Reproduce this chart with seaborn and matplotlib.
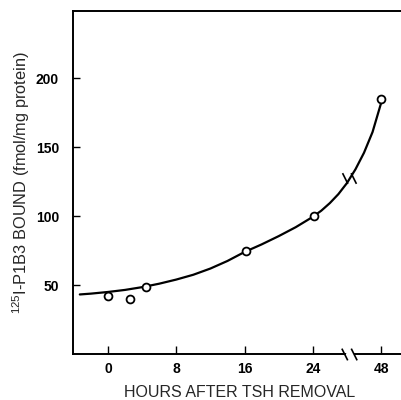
import matplotlib
matplotlib.use("Agg")
import matplotlib.pyplot as plt
import matplotlib.transforms as mtransforms
from matplotlib.path import Path
import pandas as pd
import seaborn as sns

# measured points (48 h sits at plotting position 32 behind the axis break)
hours = [0, 2.6, 4.4, 16.2, 24.1, 48]
bound = [42, 40, 48.8, 75, 100, 185]

# hand-drawn curve
curve_hours = [-3.3, -2, 0, 2, 4, 6, 8, 10, 12, 14, 16, 18, 20, 22, 24,
               25, 26, 27, 28, 29, 30, 31, 32]
curve_bound = [43.2, 43.8, 45, 46.5, 48.5, 51, 54, 57.5, 62, 67.5, 74, 79.5,
               85.5, 92, 99.5, 104, 109.5, 116, 124, 134, 146, 161, 182]

x_ticks = [0, 8, 16, 24, 32]
x_tick_labels = ["0", "8", "16", "24", "48"]
y_ticks = [50, 100, 150, 200]
BREAK_POS = 28.3


def to_pos(h):
    # hours past the break are drawn at 32
    return 32 if h >= 48 else h


sns.set_style("ticks")
plt.rcParams["font.family"] = ["Liberation Sans", "DejaVu Sans"]
plt.rcParams["mathtext.fontset"] = "custom"
plt.rcParams["mathtext.rm"] = "Liberation Sans"

pts = pd.DataFrame({"pos": [to_pos(h) for h in hours], "bound": bound})
curve = pd.DataFrame({"pos": curve_hours, "bound": curve_bound})

fig = plt.figure(figsize=(4.01, 4.0), dpi=100)
ax = fig.add_axes([0.182, 0.115, 0.83, 0.858])

sns.lineplot(data=curve, x="pos", y="bound", color="black", lw=1.6, ax=ax, sort=True)
sns.scatterplot(data=pts, x="pos", y="bound", marker="o", s=32, facecolor="white",
                edgecolor="black", linewidth=1.3, zorder=5, ax=ax)

ax.set_xlim(-4.1, 34.9)
ax.set_ylim(0, 249)
ax.set_xticks(x_ticks)
ax.set_xticklabels(x_tick_labels)
ax.set_yticks(y_ticks)
ax.tick_params(axis="y", direction="in", length=5, width=1, labelsize=10, pad=10,
               colors="black")
ax.tick_params(axis="x", direction="in", length=6, width=1, labelsize=10, pad=6,
               colors="black")
for lab in ax.get_xticklabels() + ax.get_yticklabels():
    lab.set_fontweight("bold")

ax.spines["right"].set_visible(False)
for s in ["left", "top", "bottom"]:
    ax.spines[s].set_linewidth(1.4)
    ax.spines[s].set_color("black")

ax.set_xlabel("HOURS AFTER TSH REMOVAL", fontsize=11.5, labelpad=6)
ax.set_ylabel(r"$^{125}$I-P1B3 BOUND (fmol/mg protein)", fontsize=11.8, labelpad=3)

# "\\" break symbol
brk = Path([(-1.3, 1), (-0.3, -1), (0.3, 1), (1.3, -1)],
           [Path.MOVETO, Path.LINETO, Path.MOVETO, Path.LINETO])

trans = mtransforms.blended_transform_factory(ax.transData, ax.transAxes)
ax.plot([BREAK_POS - 0.25, BREAK_POS + 0.25], [0, 0], color="white", lw=2.5,
        transform=trans, clip_on=False, zorder=6)
ax.plot([BREAK_POS], [0], marker=brk, ms=11, mec="black", mew=1.2, ls="none",
        transform=trans, clip_on=False, zorder=7)

# break on the curve
ax.plot([BREAK_POS], [128], marker=brk, ms=10, mec="black", mew=1.2, ls="none",
        zorder=4)

fig.savefig("out.png", dpi=100)
